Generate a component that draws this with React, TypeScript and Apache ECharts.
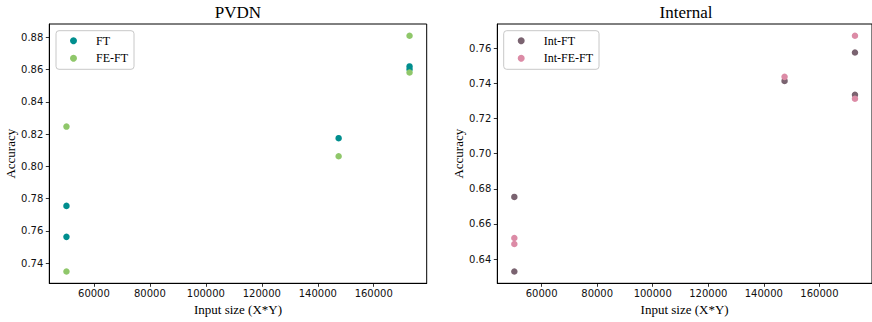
import React, { useEffect, useRef } from "react";
import * as echarts from "echarts";

// ---- data ----
const pvdnFtX = [50176, 50176, 147456, 172800, 172800];
const pvdnFtY = [0.7755, 0.7563, 0.8175, 0.862, 0.8602];
const pvdnFeFtX = [50176, 50176, 147456, 172800, 172800];
const pvdnFeFtY = [0.8247, 0.7348, 0.8063, 0.881, 0.8582];

const intFtX = [50176, 50176, 147456, 172800, 172800];
const intFtY = [0.6754, 0.6329, 0.7415, 0.7577, 0.7336];
const intFeFtX = [50176, 50176, 147456, 172800, 172800];
const intFeFtY = [0.652, 0.6486, 0.7438, 0.7672, 0.7313];

const xTicks = [60000, 80000, 100000, 120000, 140000, 160000];
const pvdnYTicks = [0.74, 0.76, 0.78, 0.8, 0.82, 0.84, 0.86, 0.88];
const intYTicks = [0.64, 0.66, 0.68, 0.7, 0.72, 0.74, 0.76];

const titles = ["PVDN", "Internal"];
const seriesNames = [["FT", "FE-FT"], ["Int-FT", "Int-FE-FT"]];
const colors = [["#008e8e", "#8fc76a"], ["#7a6370", "#dc8ba6"]];

const SERIF = "'Liberation Serif', 'Times New Roman', serif";
const SANS = "'DejaVu Sans', sans-serif";

function pad(vals: number[][]) {
  const all = vals.flat();
  const mn = Math.min(...all);
  const mx = Math.max(...all);
  const m = (mx - mn) * 0.05;
  return [mn - m, mx + m];
}

export default function App() {
  const ref = useRef<HTMLDivElement>(null);
  useEffect(() => {
    if (!ref.current) return;
    const chart = echarts.init(ref.current, undefined, { renderer: "svg" });
    const [xMin, xMax] = pad([pvdnFtX, pvdnFeFtX, intFtX, intFeFtX]);
    const [y1Min, y1Max] = pad([pvdnFtY, pvdnFeFtY]);
    const [y2Min, y2Max] = pad([intFtY, intFeFtY]);

    const grids = [
      { left: 49.3, top: 24, width: 377.4, height: 259.3 },
      { left: 497.3, top: 24, width: 377.4, height: 259.3 },
    ];

    const xAxisFor = (i: number) => ({
      type: "value",
      gridIndex: i,
      min: xMin,
      max: xMax,
      splitLine: { show: false },
      axisLine: { show: true, onZero: false, lineStyle: { color: "#000", width: 1 } },
      axisTick: {
        show: true,
        length: 3.5,
        customValues: xTicks,
        lineStyle: { color: "#000", width: 0.8 },
      },
      axisLabel: {
        customValues: xTicks,
        formatter: (v: number) => String(Math.round(v)),
        fontFamily: SANS,
        fontSize: 10,
        color: "#111",
        margin: 5,
      },
      name: "Input size (X*Y)",
      nameLocation: "middle",
      nameGap: 16,
      nameTextStyle: { fontFamily: SERIF, fontSize: 13, color: "#000" },
    });

    const yAxisFor = (i: number, mn: number, mx: number, ticks: number[]) => ({
      type: "value",
      gridIndex: i,
      min: mn,
      max: mx,
      splitLine: { show: false },
      axisLine: { show: true, onZero: false, lineStyle: { color: "#000", width: 1 } },
      axisTick: {
        show: true,
        length: 3.5,
        customValues: ticks,
        lineStyle: { color: "#000", width: 0.8 },
      },
      axisLabel: {
        customValues: ticks,
        formatter: (v: number) => v.toFixed(2),
        fontFamily: SANS,
        fontSize: 10,
        color: "#111",
        margin: 6,
      },
      name: "Accuracy",
      nameLocation: "middle",
      nameGap: 32,
      nameTextStyle: { fontFamily: SERIF, fontSize: 13, color: "#000" },
    });

    const mkSeries = (name: string, xs: number[], ys: number[], color: string, gi: number) => ({
      type: "scatter",
      name,
      xAxisIndex: gi,
      yAxisIndex: gi,
      symbol: "circle",
      symbolSize: 6.5,
      itemStyle: { color, opacity: 1 },
      data: xs.map((x, k) => [x, ys[k]]),
    });

    const legendFor = (i: number, left: number) => ({
      left,
      top: 30.7,
      orient: "vertical",
      data: seriesNames[i].map((n) => ({ name: n, icon: "circle" })),
      itemWidth: 7,
      itemHeight: 7,
      itemGap: 5.6,
      padding: [4, 6, 5, 14],
      backgroundColor: "rgba(255,255,255,0.8)",
      borderColor: "#c8c8c8",
      borderWidth: 1,
      borderRadius: 3,
      textStyle: {
        fontFamily: SERIF,
        fontSize: 12,
        color: "#000",
        padding: [0, 0, 0, 14],
      },
      selectedMode: false,
    });

    chart.setOption({
      animation: false,
      backgroundColor: "#fff",
      title: titles.map((t, i) => ({
        text: t,
        left: grids[i].left + grids[i].width / 2,
        top: 4,
        padding: 0,
        textAlign: "center",
        textStyle: { fontFamily: SERIF, fontSize: 17, fontWeight: "normal", color: "#000" },
      })),
      grid: grids.map((g) => ({
        ...g,
        show: true,
        borderColor: "#000",
        borderWidth: 1,
        backgroundColor: "transparent",
        containLabel: false,
      })),
      legend: [legendFor(0, 56), legendFor(1, 503.7)],
      xAxis: [xAxisFor(0), xAxisFor(1)],
      yAxis: [
        yAxisFor(0, y1Min, y1Max, pvdnYTicks),
        yAxisFor(1, y2Min, y2Max, intYTicks),
      ],
      series: [
        mkSeries(seriesNames[0][0], pvdnFtX, pvdnFtY, colors[0][0], 0),
        mkSeries(seriesNames[0][1], pvdnFeFtX, pvdnFeFtY, colors[0][1], 0),
        mkSeries(seriesNames[1][0], intFtX, intFtY, colors[1][0], 1),
        mkSeries(seriesNames[1][1], intFeFtX, intFeFtY, colors[1][1], 1),
      ],
    });
    return () => chart.dispose();
  }, []);

  return (
    <div
      ref={ref}
      style={{ position: "fixed", left: 0, top: 0, width: 872, height: 322, background: "#fff" }}
    />
  );
}
